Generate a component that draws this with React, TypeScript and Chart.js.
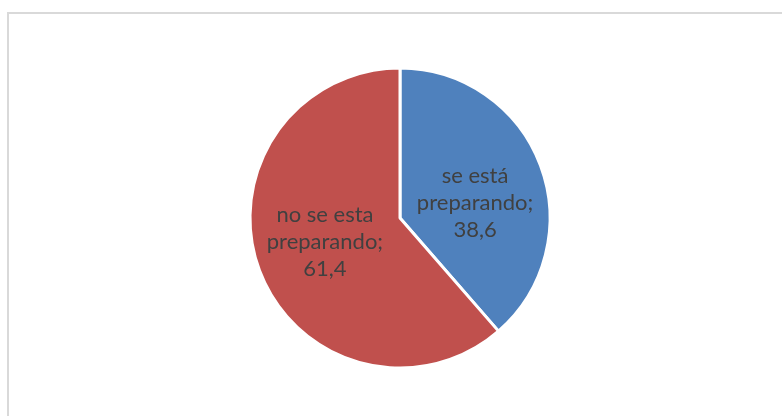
import React, { useEffect, useRef } from "react";
import { Chart, registerables } from "chart.js";

Chart.register(...registerables);

const categories = ["se está preparando", "no se esta preparando"];
const values = [38.6, 61.4];
const colors = ["#4F81BD", "#C0504D"];

// label fine placement (px) relative to slice bisector point
const LABEL_SHIFT: [number, number][] = [
  [2, 12],
  [-2, -3],
];

const fmt = (v: number) => v.toFixed(1).replace(".", ",");

const wrapLabel = (name: string): string[] => {
  const words = name.split(" ");
  const last = words.pop() as string;
  return [words.join(" "), last + ";"];
};

const labelPlugin = {
  id: "sliceLabels",
  afterDatasetsDraw(chart: any) {
    const ctx = chart.ctx as CanvasRenderingContext2D;
    const meta = chart.getDatasetMeta(0);
    ctx.save();
    ctx.font = "22px Lato, 'Open Sans', sans-serif";
    ctx.fillStyle = "#404040";
    ctx.textAlign = "center";
    ctx.textBaseline = "middle";
    const lh = 27;
    meta.data.forEach((arc: any, i: number) => {
      const { x, y, startAngle, endAngle, outerRadius } = arc.getProps(
        ["x", "y", "startAngle", "endAngle", "outerRadius"],
        true
      );
      const mid = (startAngle + endAngle) / 2;
      const r = outerRadius * 0.52;
      const px = x + Math.cos(mid) * r + LABEL_SHIFT[i][0];
      const py = y + Math.sin(mid) * r + LABEL_SHIFT[i][1];
      const lines = [...wrapLabel(categories[i]), fmt(values[i])];
      const top = py - ((lines.length - 1) * lh) / 2;
      lines.forEach((ln, k) => ctx.fillText(ln, px, top + k * lh));
    });
    ctx.restore();
  },
};

export default function App() {
  const ref = useRef<HTMLCanvasElement>(null);
  useEffect(() => {
    if (!ref.current) return;
    const chart = new Chart(ref.current, {
      type: "pie",
      data: {
        labels: categories,
        datasets: [
          {
            data: values,
            backgroundColor: colors,
            borderColor: "#ffffff",
            borderWidth: 3,
          },
        ],
      },
      options: {
        responsive: false,
        animation: false,
        devicePixelRatio: 1,
        layout: { padding: { left: 18, right: 0, top: 66.5, bottom: 46.5 } },
        plugins: {
          legend: { display: false },
          tooltip: { enabled: false },
        },
      },
      plugins: [labelPlugin],
    });
    return () => chart.destroy();
  }, []);

  return (
    <div
      style={{
        position: "fixed",
        left: 0,
        top: 0,
        width: 782,
        height: 416,
        overflow: "hidden",
        background: "#ffffff",
      }}
    >
      <div
        style={{
          position: "absolute",
          left: 7,
          top: 12,
          width: 800,
          height: 440,
          border: "2px solid #d9d9d9",
          boxSizing: "border-box",
        }}
      />
      <canvas
        ref={ref}
        width={782}
        height={416}
        style={{ position: "absolute", left: 0, top: 0, width: 782, height: 416 }}
      />
    </div>
  );
}
